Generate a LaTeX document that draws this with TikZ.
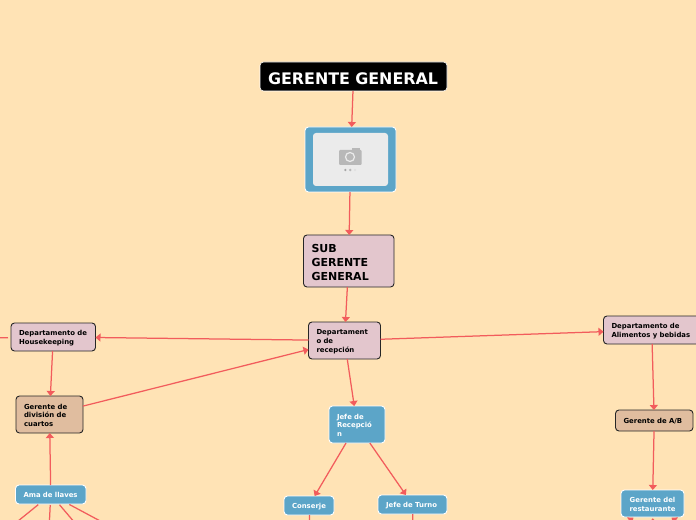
\documentclass[tikz,border=0pt]{standalone}
\usepackage{fontspec}
\setmainfont{DejaVu Sans}
\usetikzlibrary{arrows.meta}
\definecolor{bgc}{HTML}{FFE3B5}
\definecolor{bluec}{HTML}{5CA5C8}
\definecolor{pinkc}{HTML}{E3C6CD}
\definecolor{tanc}{HTML}{E0BD9F}
\definecolor{redc}{HTML}{F25C5C}
\tikzset{
  x=1bp,y=-1bp,
  place/.style n args={4}{at={({(#1+#3)/2},{(#2+#4)/2})},minimum width={(#3-#1)*1bp},minimum height={(#4-#2)*1bp},text width={(#3-#1-16)*1bp}},
  basebox/.style={rounded corners=3.5bp,align=left,inner xsep=8bp,inner ysep=0pt,outer sep=0pt,execute at begin node={\rule{0pt}{1em}},font=\bfseries\fontsize{6.9bp}{8.8bp}\selectfont},
  bluebox/.style={basebox,fill=bluec,draw=white,line width=.9bp,text=white},
  pinkbox/.style={basebox,fill=pinkc,draw=black!85,line width=.9bp,text=black},
  tanbox/.style={basebox,fill=tanc,draw=black!85,line width=.9bp,text=black},
  link/.style={draw=redc,line width=1.25bp,-{Triangle[length=5bp,width=8bp]}},
  stub/.style={draw=redc,line width=1.25bp},
}
\begin{document}
\begin{tikzpicture}
\useasboundingbox[fill=bgc] (0,0) rectangle (696,520);
\node[basebox,place={260}{62}{447}{91},fill=black,draw=white,line width=.6bp,text=white,font=\bfseries\fontsize{15.9bp}{18bp}\selectfont] (gg) {GERENTE GENERAL};
\node[bluebox,place={305}{127}{396}{192}] (img) {};
\node[pinkbox,place={303.5}{235}{394}{287},font=\bfseries\fontsize{11bp}{13.6bp}\selectfont] (sub) {SUB\\GERENTE\\GENERAL};
\node[pinkbox,place={308.5}{322}{380.5}{359}] (rec) {Departament\\o de\\recepción};
\node[bluebox,place={329}{406}{385}{443}] (jefe) {Jefe de\\Recepció\\n};
\node[bluebox,place={284}{496}{334}{515}] (cons) {Conserje};
\node[bluebox,place={378}{495}{447}{514}] (turno) {Jefe de Turno};
\node[pinkbox,place={11}{323}{95.5}{351}] (house) {Departamento de\\Housekeeping};
\node[tanbox,place={16}{396}{83}{433}] (div) {Gerente de\\división de\\cuartos};
\node[bluebox,place={15.5}{485}{86}{504}] (ama) {Ama de llaves};
\node[pinkbox,place={603.5}{316}{700}{344}] (alim) {Departamento de\\Alimentos y bebidas};
\node[tanbox,place={615.5}{410}{693}{431}] (ab) {Gerente de A/B};
\node[bluebox,place={621}{490}{684}{517},align=center] (rest) {Gerente del\\restaurante};
% picture placeholder
\fill[black!8,rounded corners=3bp] (313,133) rectangle (388,186);
\fill[black!28,rounded corners=1bp] (339,150) rectangle (361.5,165);
\fill[black!28] (352,148) rectangle (360,151);
\draw[black!8,line width=1.2bp] (350,157) circle (4.5);
\fill[black!35] (345.3,170) circle (1.3);
\fill[black!28] (350.2,170) circle (1.3);
\fill[black!12] (355,170) circle (1.3);
% free ends
\coordinate (c1) at (-10,338);
\coordinate (c4) at (310,530);
\coordinate (c6) at (413,530);
\coordinate (a1e) at (7,530);
\coordinate (a2e) at (49,530);
\coordinate (a3e) at (81,530);
\coordinate (a4e) at (117,530);
\coordinate (r1) at (617,530);
\coordinate (r2) at (653,530);
\coordinate (r3) at (688,530);
% connectors
\path[link] (gg) -- (img);
\path[link] (img) -- (sub);
\path[link] (sub) -- (rec);
\path[link] (rec) -- (house);
\path[link] (div) -- (rec);
\path[link] (rec) -- (alim);
\path[link] (rec) -- (jefe);
\path[link] (house) -- (div);
\path[link] (ama) -- (div);
\path[link] (jefe) -- (cons);
\path[link] (jefe) -- (turno);
\path[link] (alim) -- (ab);
\path[link] (ab) -- (rest);
\path[link,shorten >=1.2bp] (r1) -- (rest);
\path[link,shorten >=1.2bp] (r2) -- (rest);
\path[link,shorten >=1.2bp] (r3) -- (rest);
\path[stub,shorten <=3bp] (house) -- (c1);
\path[stub] (cons) -- (c4);
\path[stub] (turno) -- (c6);
\path[stub,shorten <=1bp] (ama) -- (a1e);
\path[stub,shorten <=1bp] (ama) -- (a2e);
\path[stub,shorten <=1bp] (ama) -- (a3e);
\path[stub,shorten <=1bp] (ama) -- (a4e);
\end{tikzpicture}
\end{document}
